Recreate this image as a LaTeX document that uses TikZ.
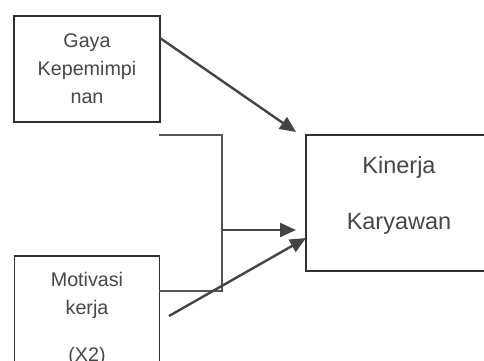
\documentclass[tikz,border=0pt]{standalone}
\usepackage{fontspec}
\setmainfont{Liberation Sans}
\usetikzlibrary{arrows.meta}
\definecolor{boxgray}{RGB}{48, 48, 48}
\definecolor{txtgray}{RGB}{70, 70, 70}
\definecolor{arrgray}{RGB}{68, 68, 68}
\definecolor{bktgray}{RGB}{85, 85, 85}

\tikzset{
  varbox/.style={draw=boxgray, line width=1.7pt, text=txtgray, align=center, inner sep=0pt},
  link/.style={draw=arrgray, line width=2.4pt, -{Triangle[length=16pt,width=14pt]}},
  bracket/.style={draw=bktgray, line width=1.7pt}
}

\begin{document}
\begin{tikzpicture}[x=1pt,y=-1pt]
\clip (0,0) rectangle (484,360);
% Variable boxes
\node[varbox, minimum width=146pt, minimum height=106pt, font=\fontsize{19.7}{28}\selectfont] (gaya) at (87,69) {Gaya\\Kepemimpi\\nan};
\node[varbox, minimum width=145pt, minimum height=126pt, font=\fontsize{19.7}{28}\selectfont] (motivasi) at (87,319) {Motivasi\\kerja\\[19pt](X2)};
\node[varbox, minimum width=186pt, minimum height=136pt, text depth=21pt, font=\fontsize{23.5}{56}\selectfont] (kinerja) at (399,203) {Kinerja\\Karyawan};

% Connector ends
\coordinate (gayaout) at (160,38);
\coordinate (gayain) at (296,132);
\coordinate (jointop) at (159,135);
\coordinate (joinbot) at (159,291);
\coordinate (joinmid) at (222,230);
\coordinate (jointip) at (296,230);
\coordinate (motout) at (169,316);
\coordinate (motin) at (306,238);

% Joint effect bracket
\draw[bracket] (jointop) -| (joinmid) |- (joinbot);
\draw[link] (joinmid) -- (jointip);

% Single effects
\draw[link] (gayaout) -- (gayain);
\draw[link] (motout) -- (motin);
\end{tikzpicture}
\end{document}
